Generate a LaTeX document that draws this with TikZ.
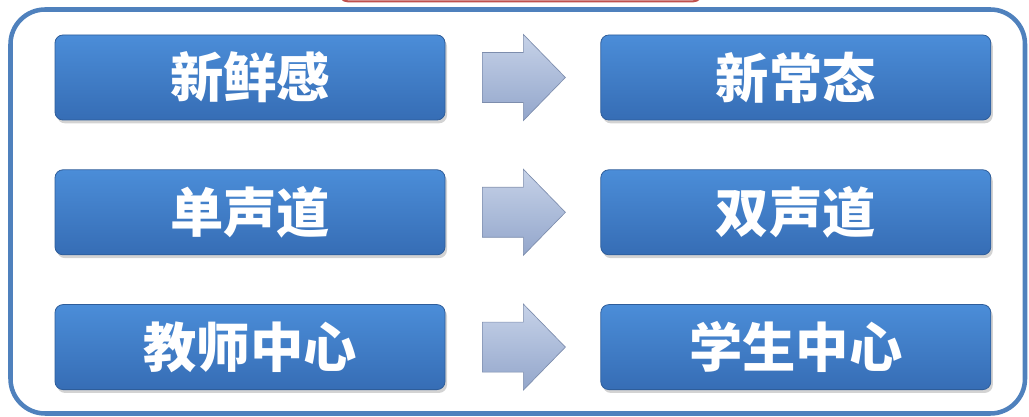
\documentclass[tikz,border=0pt]{standalone}
\usepackage{fontspec}
\newfontfamily\cjk{Noto Sans CJK SC}
\usepackage{tikz}
\usetikzlibrary{
        calc,
        positioning,
        shadows
    }
\definecolor{frameblue}{HTML}{4F81BD}
\definecolor{boxtop}{HTML}{4B8DD8}
\definecolor{boxbot}{HTML}{366DB5}
\definecolor{arrtop}{HTML}{C6D2E8}
\definecolor{arrbot}{HTML}{93A6CB}
\definecolor{tabred}{HTML}{C0504D}
\tikzset{pill/.style={rounded corners=6pt,minimum width=292.5pt,minimum height=63.75pt,
        top color=boxtop,bottom color=boxbot,draw=boxbot!85!black,line width=0.6pt,
        text=white,font=\cjk\bfseries\fontsize{40}{40}\selectfont,
        drop shadow={opacity=0.35,shadow xshift=1.5pt,shadow yshift=-2.5pt}}}
\tikzset{blockarrow/.style={top color=arrtop,bottom color=arrbot,draw=arrbot!85!black,line width=0.5pt,line join=miter}}

\begin{document}
\begin{tikzpicture}[x=0.75pt,y=-0.75pt]
                \useasboundingbox (0,0) rectangle (1029,417);
                \draw[tabred,line width=1.5pt,fill=white,rounded corners=8pt] (338,-20) rectangle (703,1.5);
                \draw[frameblue,line width=3.4pt,rounded corners=26pt] (10.5,9.5) rectangle (1025,413.5);
                \node[pill] (old1) at (250,77.5) {新鲜感};
                \node[pill] (old2) [below=36.75pt of old1] {单声道};
                \node[pill] (old3) [below=36.75pt of old2] {教师中心};
                \node[pill] (new1) [right=116.25pt of old1] {新常态};
                \node[pill] (new2) [right=116.25pt of old2] {双声道};
                \node[pill] (new3) [right=116.25pt of old3] {学生中心};
                \foreach \r in {1,2,3} {
                    \coordinate (mid\r) at ($(old\r.east)!0.5!(new\r.west)$);
                    \path[blockarrow] ($(mid\r)+(-40.5,-25)$) -- ++(41,0) -- ++(0,-18)
                        -- ($(mid\r)+(42.5,0)$) -- ($(mid\r)+(0.5,43)$) -- ++(0,-18)
                        -- ($(mid\r)+(-40.5,25)$) -- cycle;
                }
            \end{tikzpicture}
\end{document}
